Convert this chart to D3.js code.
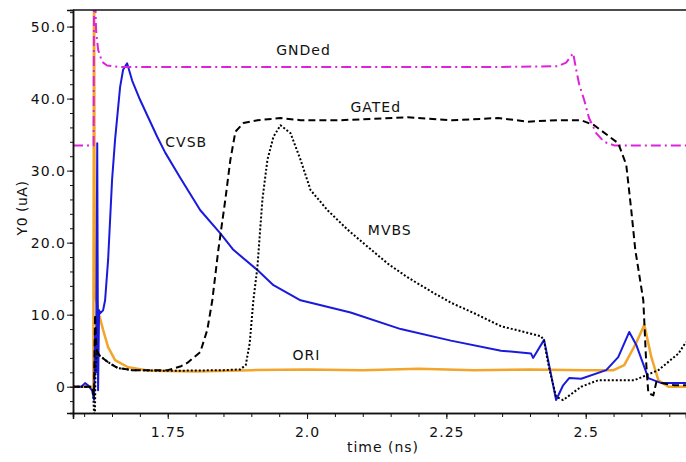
<!DOCTYPE html>
<html>
<head>
<meta charset="utf-8">
<script src="https://cdn.jsdelivr.net/npm/d3@7/dist/d3.min.js"></script>
<style>
  html, body { margin: 0; padding: 0; background: #fff; }
  svg { display: block; }
  text { font-family: "DejaVu Sans", Verdana, sans-serif; fill: #111; }
</style>
</head>
<body>
<svg id="chart" width="686" height="462"></svg>
<script>
// Transient current waveforms, Y0 (uA) against time (ns)
const gndedPts = [
  [1.580, 33.5], [1.6170, 33.5], [1.6178, 60], [1.6214, 49.5], [1.6250, 46.8],
  [1.6322, 45.1], [1.6412, 44.6], [1.6600, 44.4], [2.0000, 44.4], [2.3500, 44.4],
  [2.4505, 44.5], [2.4650, 45.0], [2.4775, 46.3], [2.4830, 44.0], [2.4883, 42.0],
  [2.4973, 39.8], [2.5060, 37.3], [2.5189, 35.2], [2.5330, 34.0], [2.5512, 33.5],
  [2.6800, 33.5]
];

const gatedPts = [
  [1.580, 0], [1.6140, 0], [1.6178, -1.2], [1.6196, 10], [1.6214, 6], [1.6232, 4.9],
  [1.6280, 4.3], [1.6430, 3.4], [1.6600, 2.6], [1.6860, 2.3], [1.7500, 2.3],
  [1.7724, 2.8], [1.7850, 3.3], [1.8084, 4.8], [1.8210, 7.9], [1.8300, 12],
  [1.8408, 19], [1.8534, 26], [1.8624, 31.5], [1.8714, 35.4], [1.8858, 36.6],
  [1.9109, 37.0], [1.9523, 37.3], [1.9883, 37.0], [2.0600, 37.0], [2.1807, 37.4],
  [2.2600, 37.0], [2.3426, 37.3], [2.3966, 36.8], [2.4500, 37.0], [2.4919, 37.0],
  [2.5153, 36.3], [2.5584, 33.8], [2.5728, 30.8], [2.5818, 24.5], [2.5890, 19],
  [2.5962, 15.5], [2.6034, 12], [2.6088, 3], [2.6124, -0.9], [2.6214, -1.2],
  [2.6268, 0.65], [2.6358, 0.5], [2.6592, 0.2], [2.6800, 0.2]
];

const mvbsPts = [
  [1.580, 0], [1.6100, 0], [1.6160, -0.5], [1.6190, -6], [1.6205, 3], [1.6232, 4.9],
  [1.6280, 4.3], [1.6430, 3.4], [1.6600, 2.6], [1.6860, 2.3], [1.7500, 2.2],
  [1.8500, 2.3], [1.8800, 2.4], [1.8900, 3.0], [1.8970, 6], [1.9037, 12],
  [1.9109, 16.6], [1.9199, 26], [1.9289, 31.5], [1.9397, 34.7], [1.9523, 36.3],
  [1.9703, 35.2], [1.9883, 31.5], [2.0063, 27.3], [2.0368, 24.5], [2.0728, 21.8],
  [2.1016, 19.9], [2.1447, 17.1], [2.1800, 15.2], [2.2275, 13.0], [2.2600, 11.6],
  [2.3000, 10.2], [2.3480, 8.4], [2.4000, 7.4], [2.4199, 7.0], [2.4253, 6.4],
  [2.4340, 2.7], [2.4469, -1.4], [2.4595, -1.85], [2.4919, 0], [2.5224, 0.9],
  [2.5872, 0.9], [2.6304, 2.3], [2.6664, 4.6], [2.6800, 6.2]
];

const cvsbPts = [
  [1.580, 0], [1.5950, 0], [1.6016, 0.5], [1.6070, 0.2], [1.6142, -0.5],
  [1.6178, -1.8], [1.6196, 8], [1.6214, 2], [1.6235, 33.8], [1.6250, -0.5],
  [1.6268, 10.6], [1.6286, 10.2], [1.6340, 10.6], [1.6376, 12], [1.6430, 17.6],
  [1.6501, 28.7], [1.6555, 34.3], [1.6645, 41.6], [1.6699, 44.0], [1.6771, 44.9],
  [1.6861, 42.5], [1.7005, 39.8], [1.7311, 34.7], [1.7455, 32.5], [1.7724, 29.0],
  [1.8084, 24.5], [1.8444, 21.3], [1.8678, 19.0], [1.9109, 16.2], [1.9397, 14.1],
  [1.9883, 12.0], [2.0782, 10.3], [2.1681, 8.0], [2.2581, 6.4], [2.3480, 5.0],
  [2.4020, 4.6], [2.4056, 4.0], [2.4253, 6.5], [2.4469, -1.85], [2.4595, 0.2],
  [2.4703, 1.2], [2.4919, 1.1], [2.5368, 2.3], [2.5584, 4.1], [2.5782, 7.6],
  [2.5908, 5.8], [2.6124, 1.2], [2.6358, 0.5], [2.6800, 0.5]
];

const oriPts = [
  [1.580, 0], [1.6140, 0], [1.6165, -0.3], [1.6178, 60], [1.6190, 13],
  [1.6232, 11.5], [1.6268, 10], [1.6340, 7.9], [1.6430, 5.5], [1.6555, 3.7],
  [1.6789, 2.7], [1.7200, 2.2], [1.8000, 2.1], [1.9000, 2.3], [2.0000, 2.4],
  [2.1000, 2.3], [2.2000, 2.5], [2.3000, 2.3], [2.4000, 2.4], [2.5000, 2.3],
  [2.5500, 2.3], [2.5692, 3.0], [2.5908, 6.1], [2.6052, 8.6], [2.6178, 4.1],
  [2.6304, 0.9], [2.6484, 0], [2.6800, 0]
];

const seriesNames = ["GNDed", "GATEd", "CVSB", "MVBS", "ORI"];
const xTickValues = [1.75, 2.0, 2.25, 2.5];
const xTickLabels = ["1.75", "2.0", "2.25", "2.5"];
const yTickValues = [0, 10, 20, 30, 40, 50];
const yTickLabels = ["0", "10.0", "20.0", "30.0", "40.0", "50.0"];
const xTitle = "time (ns)";
const yTitle = "Y0 (uA)";

const svg = d3.select("#chart");
const W = 686, H = 462;
const margin = { left: 73, top: 10, right: 0, bottom: 49 };
const plotW = W - margin.left - margin.right;
const plotH = H - margin.top - margin.bottom;

const x = d3.scaleLinear().domain([1.58, 2.68]).range([margin.left, margin.left + plotW]);
const y = d3.scaleLinear().domain([-3.65, 52.3]).range([margin.top + plotH, margin.top]);

svg.append("defs").append("clipPath").attr("id", "plotClip")
  .append("rect")
  .attr("x", margin.left).attr("y", margin.top)
  .attr("width", plotW).attr("height", plotH);

const line = d3.line().x(d => x(d[0])).y(d => y(d[1]));

const styles = {
  GNDed: { data: gndedPts, color: "#dd22dd", width: 2, dash: "10,4,2,4" },
  GATEd: { data: gatedPts, color: "#000000", width: 2, dash: "7,4" },
  MVBS:  { data: mvbsPts,  color: "#000000", width: 2, dash: "2,2" },
  CVSB:  { data: cvsbPts,  color: "#1a1adc", width: 2, dash: null },
  ORI:   { data: oriPts,   color: "#f2a52a", width: 2.5, dash: null }
};

const plot = svg.append("g").attr("clip-path", "url(#plotClip)");
["ORI", "CVSB", "MVBS", "GNDed", "GATEd"].forEach(name => {
  const s = styles[name];
  plot.append("path")
    .datum(s.data)
    .attr("fill", "none")
    .attr("stroke", s.color)
    .attr("stroke-width", s.width)
    .attr("stroke-dasharray", s.dash)
    .attr("stroke-linejoin", "round")
    .attr("d", line);
});

// Axes: minor ticks first, then labelled major ticks
const xMinor = d3.range(1.60, 2.681, 0.05);
const yMinor = d3.range(-2, 53, 2);

const xAxisG = svg.append("g").attr("transform", `translate(0,${margin.top + plotH})`);
xAxisG.call(d3.axisBottom(x).tickValues(xMinor).tickSize(4).tickFormat(""));
xAxisG.append("g").call(d3.axisBottom(x).tickValues(xTickValues).tickSize(6)
  .tickFormat((d, i) => xTickLabels[i]));

const yAxisG = svg.append("g").attr("transform", `translate(${margin.left},0)`);
yAxisG.call(d3.axisLeft(y).tickValues(yMinor).tickSize(3).tickFormat(""));
yAxisG.append("g").call(d3.axisLeft(y).tickValues(yTickValues).tickSize(6)
  .tickFormat((d, i) => yTickLabels[i]));

svg.selectAll(".domain").attr("stroke", "#111").attr("stroke-width", 1.5);
svg.selectAll(".tick line").attr("stroke", "#111").attr("stroke-width", 1);
svg.selectAll(".tick text")
  .style("font-family", '"DejaVu Sans", Verdana, sans-serif')
  .style("font-size", "14px")
  .style("letter-spacing", "1px")
  .attr("fill", "#111");
xAxisG.selectAll(".tick text").attr("dy", "1.05em");
yAxisG.selectAll(".tick text").attr("x", -7);

// Top frame line
svg.append("line")
  .attr("x1", margin.left).attr("x2", margin.left + plotW)
  .attr("y1", margin.top).attr("y2", margin.top)
  .attr("stroke", "#111").attr("stroke-width", 1.5);

// Axis titles
svg.append("text")
  .attr("x", 383).attr("y", 452)
  .attr("text-anchor", "middle")
  .style("font-size", "14px").style("letter-spacing", "1px")
  .text(xTitle);

svg.append("text")
  .attr("transform", "translate(27,208) rotate(-90)")
  .attr("text-anchor", "middle")
  .style("font-size", "14px").style("letter-spacing", "0.5px")
  .text(yTitle);

// Curve labels placed beside each waveform
const labelPos = {
  GNDed: [1.9937, 46.0],
  GATEd: [2.1232, 38.15],
  CVSB:  [1.7832, 33.3],
  MVBS:  [2.1484, 21.07],
  ORI:   [1.9990, 3.7]
};
seriesNames.forEach(name => {
  const p = labelPos[name];
  svg.append("text")
    .attr("x", x(p[0])).attr("y", y(p[1]))
    .attr("text-anchor", "middle")
    .style("font-size", "14px").style("letter-spacing", "1px")
    .text(name);
});
</script>
</body>
</html>
